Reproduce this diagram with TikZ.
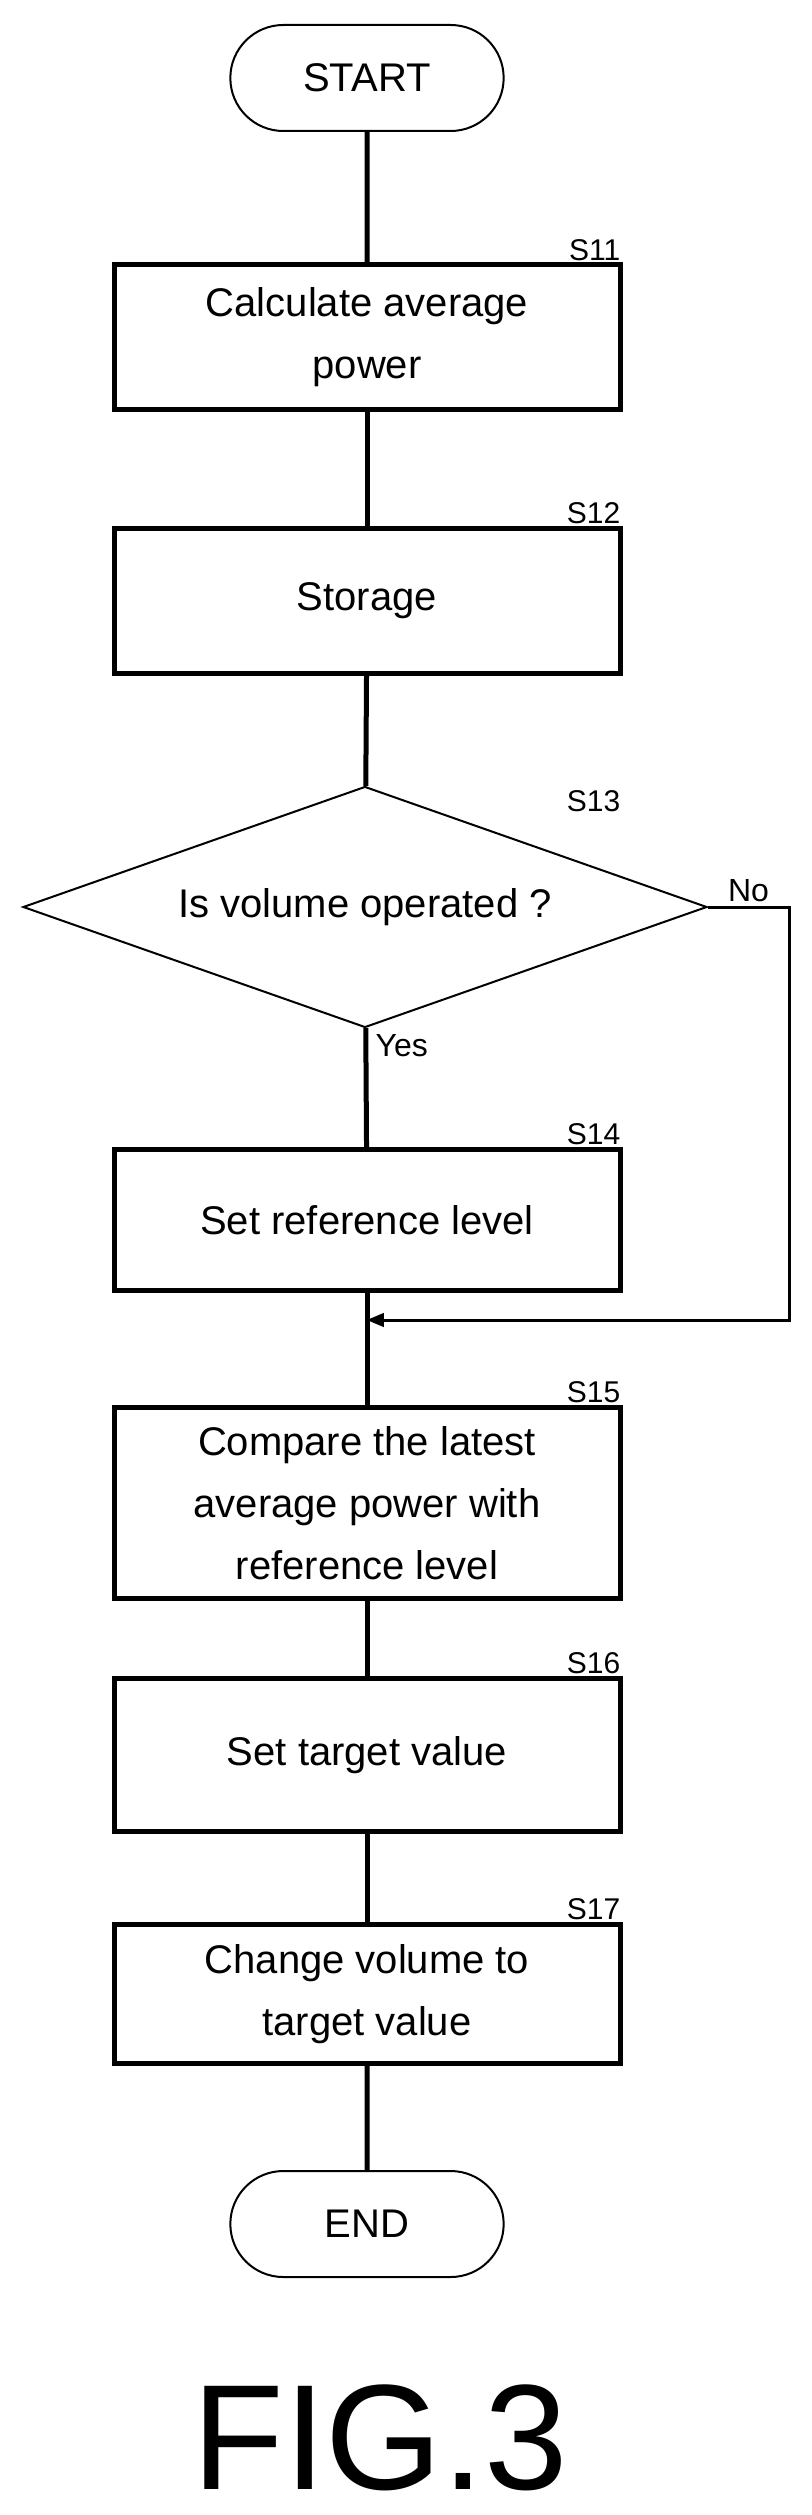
\documentclass[tikz,border=0pt]{standalone}
\usepackage{fontspec}
\setmainfont{Liberation Sans}
\usetikzlibrary{arrows, calc, shapes.geometric, shapes.misc}

\begin{document}
\begin{tikzpicture}[x=1pt, y=-1pt,
    term/.style={rounded rectangle,draw,line width=2pt,minimum width=280pt,minimum height=106pt,font=\fontsize{40}{48}\selectfont},
    proc/.style={rectangle,draw,line width=5pt,minimum width=506pt,align=center,inner sep=0pt,font=\fontsize{40}{62}\selectfont},
    test/.style={diamond,draw,line width=2pt,aspect=2.83,minimum width=684pt,minimum height=241pt,inner sep=0pt,font=\fontsize{40}{48}\selectfont},
    tag/.style={anchor=south east,inner sep=2pt,font=\fontsize{30}{36}\selectfont},
    flow/.style={line width=5pt}]
    \useasboundingbox (0,0) rectangle (811,2515);

    \node[term] (start) at (367,78) {START};
    \node[proc,minimum height=144pt] (s11) at (367,337) {Calculate average\\power};
    \node[proc,minimum height=145pt] (s12) at (367,601) {Storage};
    \node[test] (s13) at (365,907) {Is volume operated ?};
    \node[proc,minimum height=141pt] (s14) at (367,1220) {Set reference level};
    \node[proc,minimum height=191pt] (s15) at (367,1503) {Compare the latest\\average power with\\reference level};
    \node[proc,minimum height=153pt] (s16) at (367,1755) {Set target value};
    \node[proc,minimum height=139pt] (s17) at (367,1994) {Change volume to\\target value};
    \node[term] (end) at (367,2224) {END};

    \node[tag] (t11) at (s11.north east) {S11};
    \node[tag] (t12) at (s12.north east) {S12};
    \node[tag] (t13) at ($(s12.north east)+(0,288)$) {S13};
    \node[tag] (t14) at (s14.north east) {S14};
    \node[tag] (t15) at (s15.north east) {S15};
    \node[tag] (t16) at (s16.north east) {S16};
    \node[tag] (t17) at (s17.north east) {S17};

    \coordinate (join) at (367,1320);
    \coordinate (bend) at (789,1320);

    \draw[flow] (start) -- (s11);
    \draw[flow] (s11) -- (s12);
    \draw[flow] (s12) -- (s13);
    \draw[flow] (s13) -- node[pos=0.15,right=4pt,font=\fontsize{32}{36}\selectfont] {Yes} (s14);
    \draw[flow] (s14) -- (s15);
    \draw[flow] (s15) -- (s16);
    \draw[flow] (s16) -- (s17);
    \draw[flow] (s17) -- (end);
    \draw[line width=3pt,-triangle 45] (s13.east) -- node[pos=0.5,above=0pt,font=\fontsize{32}{36}\selectfont] {No} (s13.east -| bend) -- (bend) -- (join);

    \node[font=\fontsize{150}{160}\selectfont] (fig) at (380,2438) {FIG.3};
\end{tikzpicture}
\end{document}
